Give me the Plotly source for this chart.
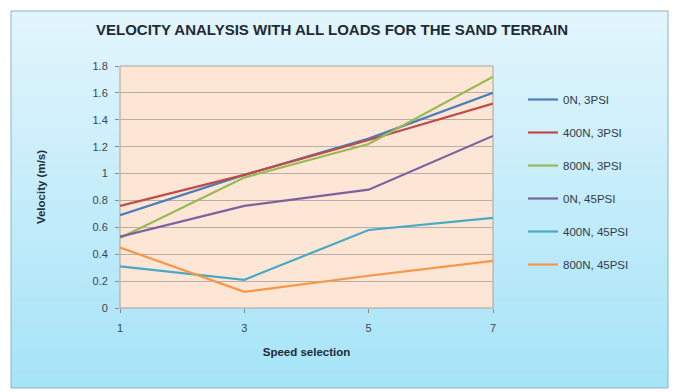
import plotly.graph_objects as go

speeds = [1, 3, 5, 7]
series_names = ["0N, 3PSI", "400N, 3PSI", "800N, 3PSI", "0N, 45PSI", "400N, 45PSI", "800N, 45PSI"]
v_0n_3psi = [0.69, 0.99, 1.26, 1.60]
v_400n_3psi = [0.76, 0.99, 1.25, 1.52]
v_800n_3psi = [0.52, 0.97, 1.22, 1.72]
v_0n_45psi = [0.53, 0.76, 0.88, 1.28]
v_400n_45psi = [0.31, 0.21, 0.58, 0.67]
v_800n_45psi = [0.45, 0.12, 0.24, 0.35]
y_ticks = [0, 0.2, 0.4, 0.6, 0.8, 1, 1.2, 1.4, 1.6, 1.8]
y_tick_labels = ["0", "0.2", "0.4", "0.6", "0.8", "1", "1.2", "1.4", "1.6", "1.8"]

values = [v_0n_3psi, v_400n_3psi, v_800n_3psi, v_0n_45psi, v_400n_45psi, v_800n_45psi]
colors = ["#4A7EBB", "#BE4B48", "#98B954", "#7D60A0", "#46AAC5", "#F79646"]

fig = go.Figure()
for i, (name, vals, col) in enumerate(zip(series_names, values, colors)):
    fig.add_trace(go.Scatter(
        x=speeds, y=vals, mode="lines", name=name,
        line=dict(color=col, width=2.2),
        legendgroup=f"g{i}",
    ))

font_family = "Liberation Sans, Arial, sans-serif"
W, H = 675, 392
ml, mr, mt, mb = 120, 182, 66, 84

pw = W - ml - mr
ph = H - mt - mb
def px_x(x):
    return (x - ml) / pw
def px_y(y):
    return (H - mb - y) / ph

# outer chart frame with vertical gradient (light top -> deeper cyan bottom)
top_y, bot_y = 11, 388
left_x, right_x = 11, 668
c_top = (226, 245, 252)
c_bot = (166, 228, 248)
n_bands = 40
for k in range(n_bands):
    t = k / (n_bands - 1)
    c = tuple(round(c_top[j] + (c_bot[j] - c_top[j]) * t) for j in range(3))
    y0 = top_y + (bot_y - top_y) * k / n_bands
    y1 = top_y + (bot_y - top_y) * (k + 1) / n_bands + 0.6
    fig.add_shape(type="rect", xref="paper", yref="paper",
                  x0=px_x(left_x), x1=px_x(right_x), y0=px_y(min(y1, bot_y)), y1=px_y(y0),
                  fillcolor=f"rgb{c}", line=dict(width=0), layer="below")
fig.add_shape(type="rect", xref="paper", yref="paper",
              x0=px_x(left_x), x1=px_x(right_x), y0=px_y(bot_y), y1=px_y(top_y),
              fillcolor="rgba(0,0,0,0)", line=dict(color="#8FB3C2", width=1), layer="below")
fig.add_shape(type="rect", xref="x domain", yref="y domain",
              x0=0, x1=1, y0=0, y1=1,
              fillcolor="#FDE6D6", line=dict(color="#A9A29A", width=1), layer="below")

fig.update_layout(
    width=W, height=H,
    margin=dict(l=ml, r=mr, t=mt, b=mb),
    paper_bgcolor="white",
    plot_bgcolor="rgba(0,0,0,0)",
    font=dict(family=font_family, size=11, color="#3A4654"),
    title=dict(text="<b>VELOCITY ANALYSIS WITH ALL LOADS FOR THE SAND TERRAIN</b>",
               x=332 / W, xref="container", xanchor="center",
               y=1 - 30 / H, yref="container", yanchor="middle",
               font=dict(size=15, color="#1F2A36", family=font_family)),
    showlegend=True,
    legend=dict(x=px_x(523), xanchor="left", y=px_y(85), yanchor="top",
                bgcolor="rgba(0,0,0,0)", tracegroupgap=14,
                font=dict(size=11.5, color="#2F3B48"),
                itemwidth=30),
    xaxis=dict(range=[1, 7], tickvals=speeds, ticktext=[str(s) for s in speeds],
               showgrid=False, zeroline=False, showline=False,
               ticks="outside", ticklen=4, tickcolor="#8A8A8A",
               ticklabelstandoff=6,
               title=dict(text="<b>Speed selection</b>", font=dict(size=11.5, color="#1F2A36"), standoff=14)),
    yaxis=dict(range=[0, 1.8], tickvals=y_ticks, ticktext=y_tick_labels,
               showgrid=True, gridcolor="#B7AEA6", gridwidth=1, zeroline=False,
               showline=False, ticks="outside", ticklen=4, tickcolor="#8A8A8A",
               ticklabelstandoff=5,
               title=dict(text="<b>Velocity (m/s)</b>", font=dict(size=11.5, color="#1F2A36"), standoff=44)),
)

fig.write_html("out.html")
